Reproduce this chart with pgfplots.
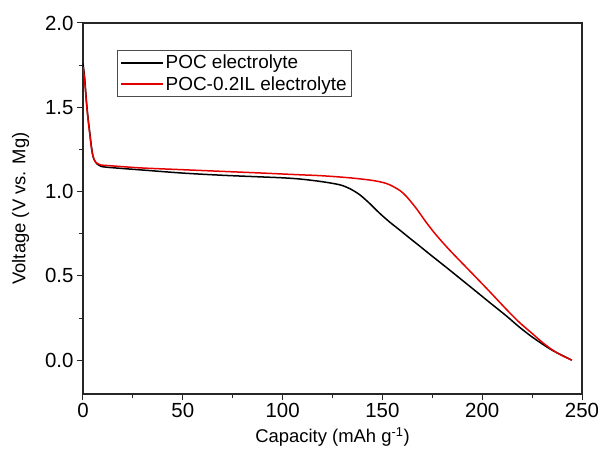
\documentclass[border=0pt]{standalone}
\usepackage{pgfplots}
\pgfplotsset{compat=1.18}
\usepackage{fontspec}
\setmainfont{Liberation Sans}
\begin{document}
\begin{tikzpicture}
\begin{axis}[
  scale only axis,
  width=499bp, height=371bp,
  xmin=0, xmax=250, ymin=-0.2, ymax=2.0,
  xtick={0,50,...,250}, ytick={0,0.5,...,2.0},
  minor x tick num=1, minor y tick num=1,
  tick align=outside, tick pos=left,
  major tick length=6bp, minor tick length=4bp,
  axis line style={line width=1.1bp, black!85},
  every tick/.style={line width=1bp, black!85},
  /pgf/number format/assume math mode=true,
  /pgf/number format/.cd, fixed, fixed zerofill, precision=1, /pgfplots/.cd,
  xticklabel style={/pgf/number format/precision=0, /pgf/number format/fixed zerofill=false},
  ticklabel style={font=\fontsize{20.5}{22}\selectfont},
  xlabel={Capacity (mAh g\textsuperscript{-1})},
  ylabel={Voltage (V vs. Mg)},
  label style={font=\fontsize{18.5}{21}\selectfont},
  xlabel style={yshift=-3bp},
  ylabel style={yshift=9bp},
  legend style={at={(0.068,0.927)}, anchor=north west, draw=black!70,
    font=\fontsize{19}{20}\selectfont, inner xsep=3bp, inner ysep=3bp, row sep=2bp},
  legend cell align=left,
  legend image code/.code={\draw[#1, line width=1.6bp] (0bp,0bp) -- (42bp,0bp);},
]
\addplot[black, line width=1.5bp, smooth, tension=0.5] coordinates {
(0,1.76) (0.8,1.68) (1.7,1.54) (2.5,1.44) (3.4,1.35) (4.2,1.27) (5,1.21) (6,1.18)
(7.5,1.16) (9,1.15) (11.7,1.145) (20,1.137) (30,1.128) (50,1.11) (70,1.097)
(90,1.087) (100,1.082) (108.5,1.075) (118.6,1.061) (128.5,1.041) (133.6,1.018)
(138.6,0.982) (143.6,0.93) (148.6,0.872) (153.6,0.82) (158.6,0.773)
(163.6,0.725) (168.7,0.677) (173.6,0.630) (178.7,0.582) (183.7,0.535)
(188.7,0.487) (195.4,0.423) (203.7,0.343) (212.1,0.263) (218.5,0.198) (225.5,0.134) (235,0.06) (244.7,0.002)
};
\addlegendentry{POC electrolyte}
\addplot[red!90!black, line width=1.5bp, smooth, tension=0.5] coordinates {
(0,1.74) (0.8,1.66) (1.7,1.53) (2.5,1.43) (3.4,1.34) (4.2,1.26) (5,1.21) (6,1.18)
(7.5,1.165) (9,1.158) (12,1.155) (20,1.148) (30,1.14) (50,1.13) (70,1.12)
(90,1.11) (108.5,1.10) (118.6,1.095) (128.5,1.087) (137,1.078) (145.3,1.066)
(150,1.055) (153.6,1.041) (158.6,1.008) (162,0.972) (167,0.90) (172,0.817) (177,0.742)
(183.7,0.653) (192.1,0.55) (197.1,0.489) (204,0.404) (212.1,0.302) (218.5,0.226) (225.5,0.154)
(231,0.098) (237.2,0.046) (245,0.0)
};
\addlegendentry{POC-0.2IL electrolyte}
\end{axis}
\pgfresetboundingbox
\path (current axis.south west) ++(-83bp,-59bp) coordinate (bbA);
\path (current axis.north east) ++(16bp,23bp) coordinate (bbB);
\path[use as bounding box] (bbA) rectangle (bbB);
\end{tikzpicture}
\end{document}
